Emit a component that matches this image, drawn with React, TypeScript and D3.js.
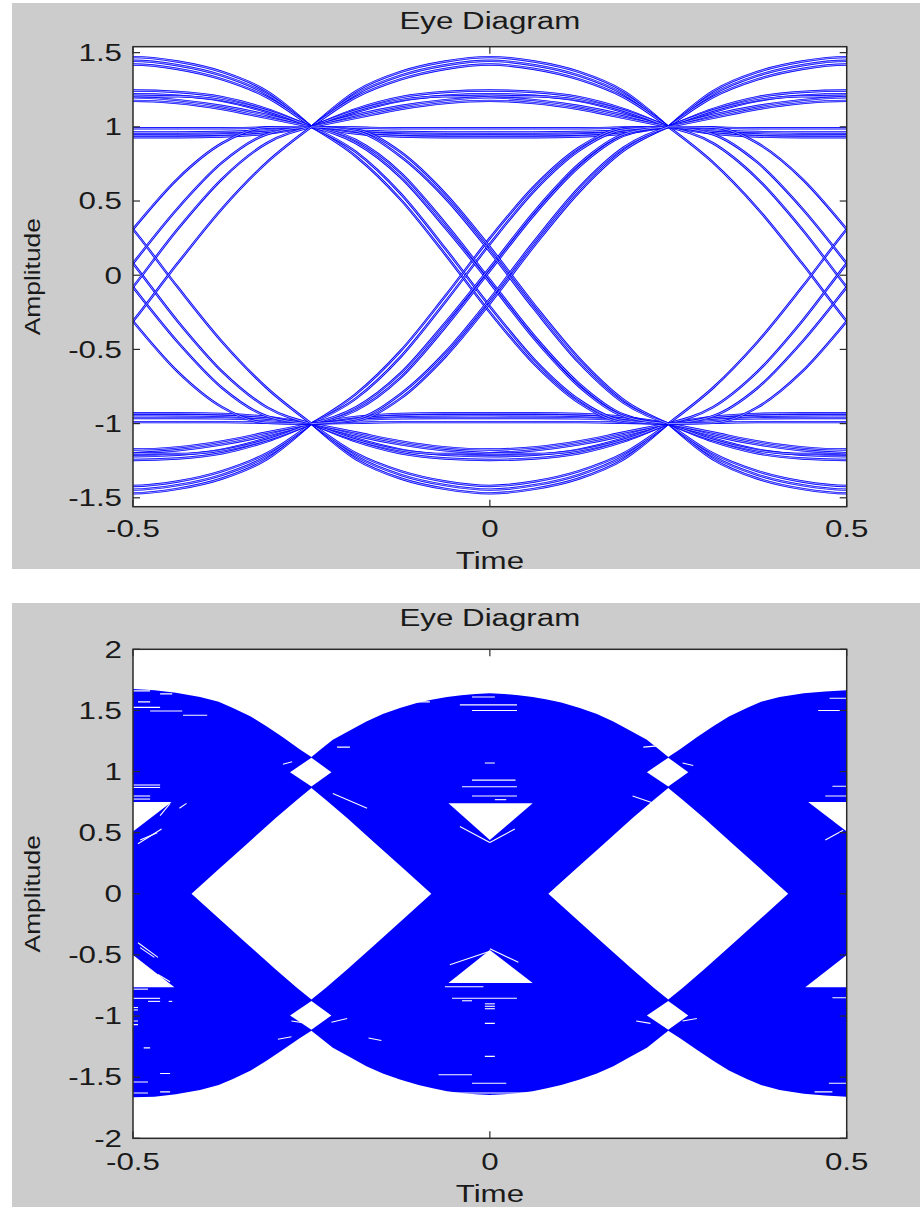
import React from "react";
import * as d3 from "d3";

// ---------- shared axis content ----------
const timeTicks = [-0.5, 0, 0.5];
const topAmplitudeTicks = [-1.5, -1, -0.5, 0, 0.5, 1, 1.5];
const bottomAmplitudeTicks = [-2, -1.5, -1, -0.5, 0, 0.5, 1, 1.5, 2];
const titleText = "Eye Diagram";
const xLabelText = "Time";
const yLabelText = "Amplitude";

// ---------- top eye diagram (few traces) ----------
// time offsets inside one symbol interval (symbol period 0.5)
const symbolOffsets = [0, 0.0625, 0.125, 0.1875, 0.25, 0.3125, 0.375, 0.4375, 0.5];
const midSegmentStarts = [-0.25];
const edgeSegmentStarts = [-0.75, 0.25];

// +1 -> +1 segments (mirrored for -1 -> -1)
const highArcs = [
  [1, 1.24, 1.37, 1.44, 1.47, 1.44, 1.37, 1.24, 1],
  [1, 1.22, 1.345, 1.415, 1.445, 1.415, 1.345, 1.22, 1],
  [1, 1.2, 1.32, 1.39, 1.42, 1.39, 1.32, 1.2, 1],
];
const middleArcs = [
  [1, 1.12, 1.2, 1.235, 1.245, 1.235, 1.2, 1.12, 1],
  [1, 1.1, 1.175, 1.21, 1.22, 1.21, 1.175, 1.1, 1],
  [1, 1.11, 1.18, 1.205, 1.2, 1.18, 1.14, 1.08, 1],
  [1, 1.08, 1.14, 1.18, 1.2, 1.205, 1.18, 1.11, 1],
  [1, 1.06, 1.12, 1.16, 1.175, 1.16, 1.12, 1.06, 1],
];
const flatArcs = [
  [1, 0.995, 0.99, 0.99, 0.99, 0.99, 0.99, 0.995, 1],
  [1, 0.975, 0.965, 0.962, 0.962, 0.962, 0.965, 0.975, 1],
  [1, 0.965, 0.948, 0.944, 0.943, 0.944, 0.948, 0.965, 1],
  [1, 0.955, 0.935, 0.93, 0.93, 0.93, 0.935, 0.955, 1],
];
// +1 -> -1 transitions (mirrored for -1 -> +1)
const midTransitions = [
  [1, 0.8, 0.51, 0.14, -0.25, -0.6, -0.86, -0.99, -1],
  [1, 0.83, 0.55, 0.18, -0.21, -0.57, -0.84, -0.98, -1],
  [1, 0.91, 0.69, 0.35, -0.03, -0.41, -0.73, -0.94, -1],
  [1, 0.89, 0.66, 0.32, -0.05, -0.43, -0.75, -0.95, -1],
  [1, 0.98, 0.83, 0.55, 0.19, -0.2, -0.56, -0.84, -1],
  [1, 0.97, 0.8, 0.52, 0.16, -0.23, -0.59, -0.86, -1],
];
const edgeTransitions = [
  [1, 0.76, 0.45, 0.08, -0.31, -0.65, -0.89, -0.995, -1],
  [1, 0.89, 0.65, 0.31, -0.08, -0.45, -0.76, -0.95, -1],
  [1, 0.95, 0.76, 0.45, 0.08, -0.31, -0.65, -0.89, -1],
  [1, 0.995, 0.89, 0.65, 0.31, -0.08, -0.45, -0.76, -1],
];

// ---------- bottom eye diagram (dense traces) ----------
const envelopeTimes = [-0.5, -0.47, -0.44, -0.406, -0.38, -0.36, -0.335, -0.313, -0.29, -0.266, -0.25, -0.235, -0.22, -0.195, -0.173, -0.15, -0.126, -0.1, -0.08, -0.06, -0.04, -0.02, 0, 0.02, 0.04, 0.06, 0.08, 0.1, 0.126, 0.15, 0.173, 0.195, 0.22, 0.235, 0.25, 0.266, 0.29, 0.313, 0.335, 0.36, 0.38, 0.406, 0.44, 0.47, 0.5];
const envelopeUpper = [1.675, 1.665, 1.645, 1.61, 1.57, 1.52, 1.45, 1.37, 1.28, 1.18, 1.12, 1.19, 1.26, 1.34, 1.41, 1.47, 1.52, 1.565, 1.59, 1.61, 1.625, 1.635, 1.64, 1.635, 1.625, 1.61, 1.59, 1.565, 1.52, 1.47, 1.41, 1.34, 1.26, 1.19, 1.12, 1.18, 1.28, 1.37, 1.45, 1.52, 1.57, 1.61, 1.64, 1.655, 1.665];
const envelopeLower = [-1.665, -1.66, -1.64, -1.605, -1.565, -1.515, -1.445, -1.365, -1.275, -1.18, -1.12, -1.19, -1.26, -1.34, -1.41, -1.47, -1.52, -1.565, -1.59, -1.615, -1.63, -1.64, -1.645, -1.64, -1.63, -1.615, -1.59, -1.565, -1.52, -1.47, -1.41, -1.34, -1.26, -1.19, -1.12, -1.18, -1.275, -1.365, -1.445, -1.515, -1.565, -1.605, -1.635, -1.65, -1.66];

const eyeCenters = [-0.25, 0.25];
const eyeOffsets = [-0.168, -0.13, -0.09, -0.05, -0.02, 0, 0.02, 0.05, 0.09, 0.13, 0.168];
const eyeHalfHeights = [0, 0.2, 0.41, 0.62, 0.77, 0.865, 0.77, 0.62, 0.41, 0.2, 0];

const crossingHoleCenters = [[-0.25, 0.995], [0.25, 0.995], [-0.25, -0.995], [0.25, -0.995]];
const crossingHoleOffsets = [-0.03, 0, 0.028];
const crossingHoleHalfHeights = [0, 0.118, 0];

const midTriangleUpper = [[-0.058, 0.74], [0.06, 0.74], [0, 0.44]];
const midTriangleLower = [[-0.058, -0.73], [0.06, -0.73], [0, -0.46]];
const edgeTriangleCenters = [-0.5, 0.5];
const edgeTriangleUpper = [[-0.054, 0.75], [0.054, 0.75], [0, 0.51]];
const edgeTriangleLower = [[-0.058, -0.765], [0.058, -0.765], [0, -0.5]];

// short gaps in the dense traces: [t0, v0, t1, v1]
const traceGaps = [
  [-0.5, 1.66, -0.476, 1.66], [-0.462, 1.635, -0.445, 1.635], [-0.493, 1.57, -0.476, 1.57],
  [-0.5, 1.525, -0.462, 1.525], [-0.476, 1.495, -0.431, 1.495], [-0.43, 1.46, -0.396, 1.46],
  [-0.5, 0.89, -0.462, 0.89], [-0.5, 0.87, -0.462, 0.87], [-0.5, 0.8, -0.476, 0.8], [-0.5, 0.775, -0.476, 0.775],
  [-0.29, 1.06, -0.277, 1.08], [-0.214, 1.2, -0.196, 1.2], [-0.22, 0.82, -0.172, 0.7],
  [-0.493, 0.41, -0.46, 0.53], [-0.49, 0.44, -0.466, 0.5], [-0.462, 0.64, -0.448, 0.74],
  [-0.435, 0.7, -0.425, 0.74], [-0.37, 0.06, -0.355, 0.14],
  [-0.5, -0.78, -0.479, -0.78], [-0.5, -0.855, -0.462, -0.855], [-0.479, -0.88, -0.462, -0.88],
  [-0.5, -0.93, -0.493, -0.93], [-0.5, -0.95, -0.493, -0.95], [-0.5, -1.04, -0.493, -1.04],
  [-0.5, -1.07, -0.493, -1.07], [-0.485, -1.26, -0.476, -1.26], [-0.45, -0.88, -0.445, -0.88],
  [-0.462, -1.47, -0.448, -1.47], [-0.5, -1.54, -0.479, -1.54], [-0.5, -1.63, -0.479, -1.63],
  [-0.462, -1.62, -0.448, -1.62], [-0.297, -1.19, -0.278, -1.17], [-0.278, -1.04, -0.255, -1.06],
  [-0.222, -1.05, -0.2, -1.02], [-0.17, -1.18, -0.152, -1.2], [-0.493, -0.4, -0.465, -0.52],
  [-0.49, -0.44, -0.47, -0.52], [-0.465, -0.66, -0.448, -0.72],
  [-0.025, 1.61, 0.007, 1.61], [-0.042, 1.545, 0.038, 1.545], [-0.025, 1.5, 0.038, 1.5],
  [-0.108, 1.57, -0.084, 1.57], [-0.007, 1.07, 0.007, 1.07], [-0.025, 0.93, 0.036, 0.93],
  [-0.039, 0.876, 0.038, 0.876], [-0.025, 0.8, 0.038, 0.8], [0.007, 0.77, 0.023, 0.77],
  [-0.042, 0.55, 0, 0.42], [0, 0.42, 0.035, 0.53], [-0.056, -0.58, 0, -0.47], [0, -0.45, 0.04, -0.56],
  [-0.063, -0.76, -0.009, -0.76], [-0.053, -0.855, 0.038, -0.855], [-0.039, -0.875, -0.025, -0.875],
  [-0.007, -0.9, 0.007, -0.9], [-0.007, -0.92, 0.007, -0.92], [-0.007, -0.94, 0.007, -0.94],
  [-0.007, -1.06, 0.007, -1.06], [-0.007, -1.33, 0.007, -1.33], [-0.072, -1.48, -0.025, -1.48],
  [-0.025, -1.55, 0.023, -1.55], [-0.056, -1.63, 0.051, -1.63],
  [0.476, 1.6, 0.5, 1.6], [0.46, 1.5, 0.5, 1.5], [0.48, 0.88, 0.5, 0.88], [0.47, 0.8, 0.5, 0.8],
  [0.48, -0.85, 0.5, -0.85], [0.475, -1.55, 0.5, -1.55], [0.455, -1.62, 0.48, -1.62],
  [0.215, 1.2, 0.235, 1.21], [0.27, 1.07, 0.285, 1.05], [0.2, 0.8, 0.24, 0.72],
  [0.205, -1.04, 0.225, -1.06], [0.27, -1.04, 0.29, -1.02], [0.47, 0.44, 0.495, 0.52],
];

// ---------- layout ----------
const FONT = "'Liberation Sans', Arial, Helvetica, sans-serif";
const PLOT_LEFT = 133;
const PLOT_RIGHT = 846.7;
const BG_LEFT = 12;
const BLUE = "#0000ff";
const TEXT_WIDEN = 1.36;

const x = d3.scaleLinear().domain([-0.5, 0.5]).range([PLOT_LEFT, PLOT_RIGHT]);

type FrameProps = {
  y: d3.ScaleLinear<number, number>;
  yTicks: number[];
  bgTop: number;
  bgBottom: number;
  titleBaseline: number;
  tickBaseline: number;
  labelBaseline: number;
  clipId: string;
  children?: React.ReactNode;
};

function WideText({ x, y, anchor, children }: { x: number; y: number; anchor: string; children: React.ReactNode }) {
  return (
    <text transform={`translate(${x},${y}) scale(${TEXT_WIDEN},1)`} textAnchor={anchor}>
      {children}
    </text>
  );
}

function Frame({ y, yTicks, bgTop, bgBottom, titleBaseline, tickBaseline, labelBaseline, clipId, children }: FrameProps) {
  const L = PLOT_LEFT;
  const R = PLOT_RIGHT;
  const [B, T] = y.range();
  const tickLen = 7;
  const axisColor = "#2a2a2a";
  const textColor = "#1a1a1a";
  return (
    <g>
      <rect x={BG_LEFT} y={bgTop} width={920 - BG_LEFT} height={bgBottom - bgTop} fill="#cccccc" />
      <rect x={L} y={T} width={R - L} height={B - T} fill="#ffffff" />
      <defs>
        <clipPath id={clipId}>
          <rect x={L} y={T} width={R - L} height={B - T} />
        </clipPath>
      </defs>
      <g clipPath={`url(#${clipId})`}>{children}</g>
      <g stroke={axisColor} strokeWidth={1.2}>
        {yTicks.map((v) => (
          <g key={"yt" + v}>
            <line x1={L} x2={L + tickLen} y1={y(v)} y2={y(v)} />
            <line x1={R - tickLen} x2={R} y1={y(v)} y2={y(v)} />
          </g>
        ))}
        {timeTicks.map((t) => (
          <g key={"xt" + t}>
            <line x1={x(t)} x2={x(t)} y1={B} y2={B - tickLen} />
            <line x1={x(t)} x2={x(t)} y1={T} y2={T + tickLen} />
          </g>
        ))}
      </g>
      <rect x={L} y={T} width={R - L} height={B - T} fill="none" stroke={axisColor} strokeWidth={1.5} />
      <g fontFamily={FONT} fontSize={23} fill={textColor}>
        {yTicks.map((v) => (
          <WideText key={"yl" + v} x={L - 11} y={y(v) + 8.3} anchor="end">
            {String(v)}
          </WideText>
        ))}
        {timeTicks.map((t) => (
          <WideText key={"xl" + t} x={x(t)} y={tickBaseline} anchor="middle">
            {String(t)}
          </WideText>
        ))}
        <WideText x={(L + R) / 2} y={titleBaseline} anchor="middle">
          {titleText}
        </WideText>
        <WideText x={(L + R) / 2} y={labelBaseline} anchor="middle">
          {xLabelText}
        </WideText>
        <text
          transform={`translate(40,${(T + B) / 2}) rotate(-90) scale(1.2,1)`}
          textAnchor="middle"
          fontSize={22}
        >
          {yLabelText}
        </text>
      </g>
    </g>
  );
}

export default function App() {
  const yTop = d3.scaleLinear().domain([-1.56, 1.54]).range([506.7, 46.7]);
  const yBot = d3.scaleLinear().domain([-2, 2]).range([1138.3, 649.3]);

  const traceLine = d3
    .line<[number, number]>()
    .x((d) => x(d[0]))
    .y((d) => yTop(d[1]))
    .curve(d3.curveMonotoneX);

  const buildTraces = (starts: number[], profiles: number[][]) => {
    const out: string[] = [];
    starts.forEach((s) =>
      profiles.forEach((p) =>
        [1, -1].forEach((sign) => {
          out.push(traceLine(symbolOffsets.map((o, i) => [s + o, sign * p[i]] as [number, number])) || "");
        })
      )
    );
    return out;
  };

  const allProfiles = [...highArcs, ...middleArcs, ...flatArcs];
  const topPaths = [
    ...buildTraces(edgeSegmentStarts, [...allProfiles, ...edgeTransitions]),
    ...buildTraces(midSegmentStarts, [...allProfiles, ...midTransitions]),
  ];

  const envelopeArea = d3
    .area<number>()
    .x((t) => x(t))
    .y0((_, i) => yBot(envelopeLower[i]))
    .y1((_, i) => yBot(envelopeUpper[i]));

  const holeArea = (ct: number, cv: number, offs: number[], halves: number[]) =>
    d3
      .area<number>()
      .x((o) => x(ct + o))
      .y0((_, i) => yBot(cv - halves[i]))
      .y1((_, i) => yBot(cv + halves[i]))(offs) || "";

  const polygon = (ct: number, pts: number[][]) =>
    (d3
      .line<number[]>()
      .x((p) => x(ct + p[0]))
      .y((p) => yBot(p[1]))(pts) || "") + "Z";

  return (
    <svg
      width={920}
      height={1207}
      viewBox="0 0 920 1207"
      style={{ position: "absolute", left: 0, top: 0, background: "#ffffff" }}
    >
      <Frame
        y={yTop}
        yTicks={topAmplitudeTicks}
        bgTop={3}
        bgBottom={569}
        titleBaseline={29}
        tickBaseline={537}
        labelBaseline={569}
        clipId="clipTop"
      >
        <g fill="none">
          {topPaths.map((d, i) => (
            <g key={i}>
              <path d={d} stroke={BLUE} strokeWidth={2.4} />
              <path d={d} stroke="#ffffff" strokeWidth={0.7} strokeOpacity={0.85} />
            </g>
          ))}
        </g>
      </Frame>
      <Frame
        y={yBot}
        yTicks={bottomAmplitudeTicks}
        bgTop={603}
        bgBottom={1207}
        titleBaseline={626}
        tickBaseline={1170}
        labelBaseline={1202}
        clipId="clipBottom"
      >
        <path d={envelopeArea(envelopeTimes) || ""} fill={BLUE} />
        <g fill="#ffffff">
          {eyeCenters.map((c) => (
            <path key={"eye" + c} d={holeArea(c, 0, eyeOffsets, eyeHalfHeights)} />
          ))}
          {crossingHoleCenters.map(([ct, cv]) => (
            <path key={"ch" + ct + cv} d={holeArea(ct, cv, crossingHoleOffsets, crossingHoleHalfHeights)} />
          ))}
          <path d={polygon(0, midTriangleUpper)} />
          <path d={polygon(0, midTriangleLower)} />
          {edgeTriangleCenters.map((c) => (
            <g key={"et" + c}>
              <path d={polygon(c, edgeTriangleUpper)} />
              <path d={polygon(c, edgeTriangleLower)} />
            </g>
          ))}
        </g>
        <g stroke="#ffffff" strokeWidth={1.1}>
          {traceGaps.map((g, i) => (
            <line key={i} x1={x(g[0])} y1={yBot(g[1])} x2={x(g[2])} y2={yBot(g[3])} />
          ))}
        </g>
      </Frame>
    </svg>
  );
}
